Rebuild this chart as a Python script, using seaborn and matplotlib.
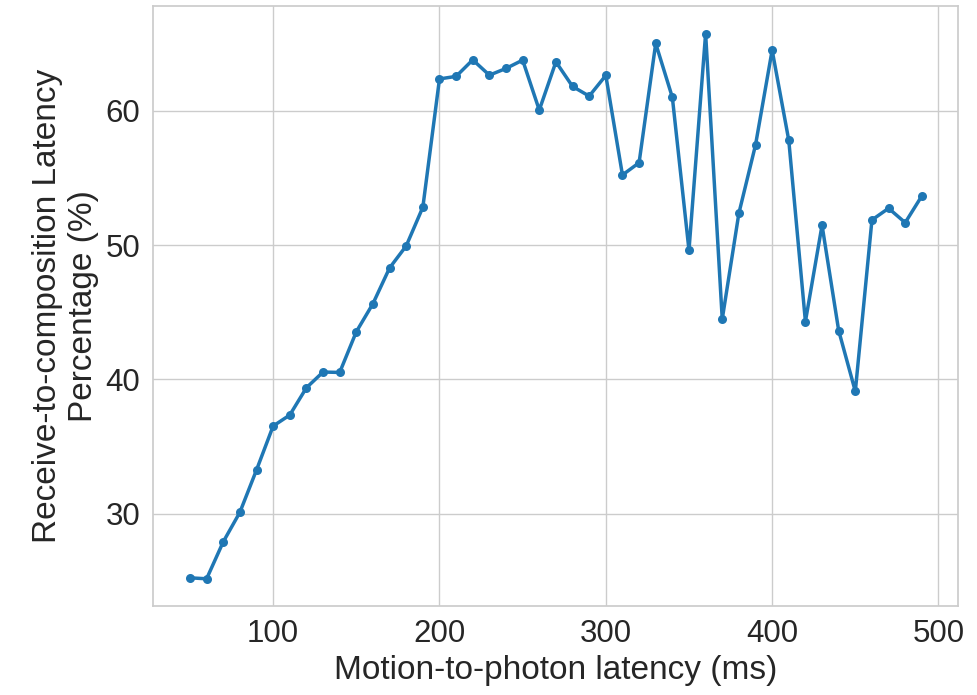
import numpy as np
import pandas as pd
import matplotlib
matplotlib.use("Agg")
import matplotlib.pyplot as plt
import seaborn as sns

latency_ms = list(range(50, 500, 10))
percentage = [25.23, 25.16, 27.91, 30.11, 33.26, 36.53, 37.35, 39.38, 40.55, 40.52,
              43.55, 45.64, 48.30, 49.94, 52.82, 62.37, 62.56, 63.79, 62.65, 63.15,
              63.77, 60.05, 63.64, 61.81, 61.09, 62.63, 55.22, 56.13, 65.01, 61.00,
              49.62, 65.75, 44.49, 52.37, 57.45, 64.51, 57.80, 44.31, 51.48, 43.64,
              39.11, 51.87, 52.74, 51.67, 53.66]

x_label = "Motion-to-photon latency (ms)"
y_label = "Receive-to-composition Latency\nPercentage (%)"
x_ticks = [100, 200, 300, 400, 500]
y_ticks = [30, 40, 50, 60]

sns.set_theme(style="whitegrid")
plt.rcParams['font.family'] = ['Liberation Sans', 'DejaVu Sans']

df = pd.DataFrame({"x": latency_ms, "y": percentage})

fig = plt.figure(figsize=(9.77, 6.95), dpi=100)
ax = fig.add_axes([0.157, 0.128, 0.824, 0.863])
sns.lineplot(data=df, x="x", y="y", marker="o", markersize=6.5, markeredgewidth=0,
             linewidth=2.5, color="#1f77b4", ax=ax)
ax.set_xticks(x_ticks)
ax.set_yticks(y_ticks)
ax.set_xlabel(x_label, fontsize=24, labelpad=4)
ax.set_ylabel(y_label, fontsize=24, labelpad=5)
ax.tick_params(labelsize=22.5)
fig.savefig("out.png", dpi=100)
